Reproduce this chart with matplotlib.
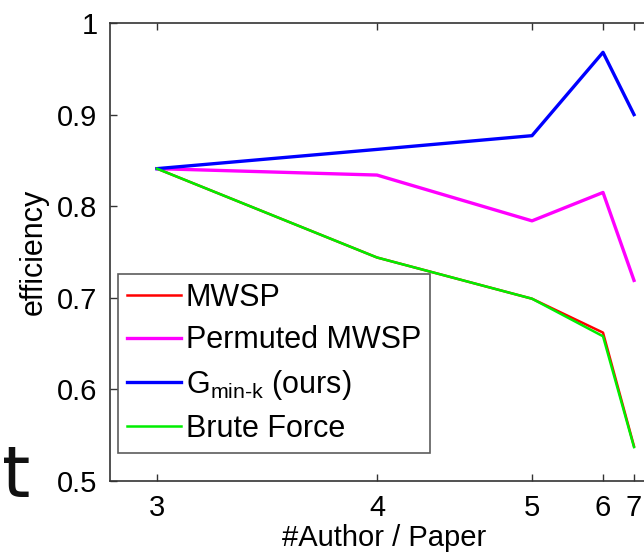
import numpy as np
import matplotlib
matplotlib.use("Agg")
import matplotlib.pyplot as plt

plt.rcParams['font.family'] = ['Liberation Sans', 'DejaVu Sans']
plt.rcParams['mathtext.fontset'] = 'custom'
plt.rcParams['mathtext.rm'] = 'Liberation Sans'
plt.rcParams['mathtext.it'] = 'Liberation Sans'

# ---- data ----
authors = [3, 4, 5, 6, 7]
mwsp = [0.841, 0.744, 0.699, 0.662, 0.538]
permuted_mwsp = [0.841, 0.834, 0.784, 0.815, 0.719]
gmink = [0.841, 0.862, 0.877, 0.968, 0.900]
brute_force = [0.841, 0.744, 0.699, 0.658, 0.537]
y_ticks = [0.5, 0.6, 0.7, 0.8, 0.9, 1.0]
y_ticklabels = ['0.5', '0.6', '0.7', '0.8', '0.9', '1']
x_ticklabels = ['3', '4', '5', '6', '7']

# warped x-axis (spacing as in the original figure)
scale_pts = [2, 3, 4, 5, 6, 7, 8]
scale_warp = [-1.0, 0.0, 1.0, 1.7045, 2.0273, 2.1682, 2.30]

def fwd(x):
    return np.interp(x, scale_pts, scale_warp)

def inv(w):
    return np.interp(w, scale_warp, scale_pts)

fig = plt.figure(figsize=(6.44, 5.54), dpi=100)
W, H = 644, 554
L, R, T, B = 110, 658, 23, 481
ax = fig.add_axes([L / W, (H - B) / H, (R - L) / W, (B - T) / H])
ax.set_xscale('function', functions=(fwd, inv))

ax.plot(authors, mwsp, color='#ff0000', lw=1.8, label='MWSP')
ax.plot(authors, permuted_mwsp, color='#ff00ff', lw=2.4, label='Permuted MWSP')
ax.plot(authors, gmink, color='#0000ff', lw=2.4, label=r'G$_{\mathregular{min\text{-}k}}$ (ours)')
ax.plot(authors, brute_force, color='#00ee00', lw=1.8, label='Brute Force')

ax.set_xlim(inv(-47 / 220), inv((R - 157) / 220))
ax.set_ylim(0.5, 1.0)
ax.set_xticks(authors)
ax.set_xticklabels(x_ticklabels)
ax.set_yticks(y_ticks)
ax.set_yticklabels(y_ticklabels)
ax.xaxis.set_minor_locator(matplotlib.ticker.NullLocator())

ax.tick_params(direction='in', length=5, width=1, labelsize=21, top=True, right=True,
               color='#333333', pad=9)
for s in ax.spines.values():
    s.set_color('#333333')
    s.set_linewidth(1.2)

ax.set_xlabel('#Author / Paper', fontsize=21, labelpad=2)
ax.set_ylabel('efficiency', fontsize=22, labelpad=6)

leg = ax.legend(loc='upper left', bbox_to_anchor=(118 / W, (H - 274) / H),
                bbox_transform=fig.transFigure, fontsize=22, frameon=True,
                fancybox=False, handlelength=1.75, handletextpad=0.17,
                borderaxespad=0, borderpad=0.3, labelspacing=0.4)
leg.get_frame().set_edgecolor('#333333')
leg.get_frame().set_linewidth(1.2)

fig.text(30 / W, (H - 497) / H, 't', fontsize=52, family='DejaVu Sans',
         ha='right', va='baseline', color='#111111')

fig.savefig('out.png', dpi=100)
